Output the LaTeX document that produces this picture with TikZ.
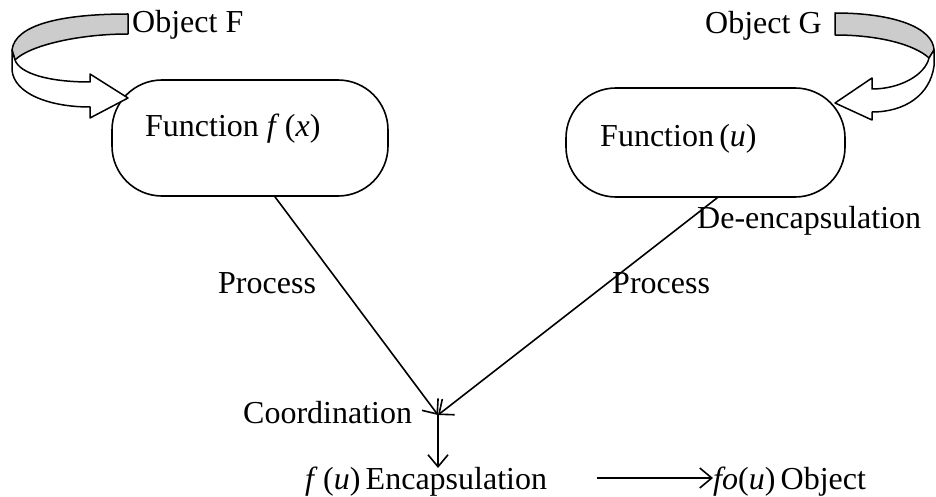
\documentclass[tikz,border=0pt]{standalone}
\usepackage{fontspec}
\setmainfont{Liberation Serif}
\usetikzlibrary{arrows.meta}
\begin{document}
\begin{tikzpicture}[x=1pt,y=-1pt,
  txt/.style={anchor=base west,inner sep=0pt,font=\fontsize{32pt}{38pt}\selectfont},
  fbox/.style={draw,line width=1.6pt,rounded corners=50pt},
  conn/.style={line width=1.6pt,-{Straight Barb[length=12pt,width=20pt]}},
  ribbon/.style={draw,line width=1.5pt,line join=round}]
\useasboundingbox (0,0) rectangle (936,497);
% boxes
\node[fbox,minimum width=276pt,minimum height=116pt] (F) at (250,138) {};
\node[fbox,minimum width=279pt,minimum height=109pt] (G) at (705.5,142.5) {};
% texts
\node[txt] (tf) at (145,137) {Function \textit{f}\,(\textit{x})};
\node[txt] (tg) at (600,147) {Function\,(\textit{u})};
\node[txt] (of) at (132,33) {Object F};
\node[txt] (og) at (705,34) {Object G};
\node[txt] (de) at (697,228) {De-encapsulation};
\node[txt] (p1) at (218,293) {Process};
\node[txt] (p2) at (612,293) {Process};
\node[txt] (co) at (243,423) {Coordination};
\node[txt] (en) at (305,489) {\textit{f}\,(\textit{u})\,Encapsulation};
\node[txt] (ob) at (713,489) {\textit{fo}(\textit{u})\,Object};
% connectors
\coordinate (c) at (438,415);
\coordinate (e) at (438,468);
\coordinate (h1) at (597,478);
\coordinate (h2) at (713,478);
\draw[conn] (F.-67) -- (c);
\draw[conn] (G.-78) -- (c);
\draw[conn] (c) -- (e);
\draw[conn] (h1) -- (h2);
% left curved arrow
\filldraw[ribbon,fill=gray!40] (128,14) .. controls (60,14) and (15,25) .. (12,50) -- (15,60)
  .. controls (30,45) and (80,34) .. (128,34) -- cycle;
\filldraw[ribbon,fill=white] (12,50) -- (12,70) .. controls (14,94) and (50,107) .. (90,107)
  -- (90,118) -- (128,98) -- (90,74) -- (90,82) .. controls (50,82) and (20,74) .. (15,60) -- cycle;
% right curved arrow
\filldraw[ribbon,fill=gray!40] (835,13) .. controls (895,13) and (933,28) .. (934,50) -- (929,58)
  .. controls (915,45) and (880,35) .. (835,35) -- cycle;
\filldraw[ribbon,fill=white] (934,50) -- (934,66) .. controls (930,95) and (905,112) .. (872,112)
  -- (872,120) -- (835,103) -- (872,78) -- (872,89) .. controls (900,89) and (925,75) .. (929,58) -- cycle;
\end{tikzpicture}
\end{document}
